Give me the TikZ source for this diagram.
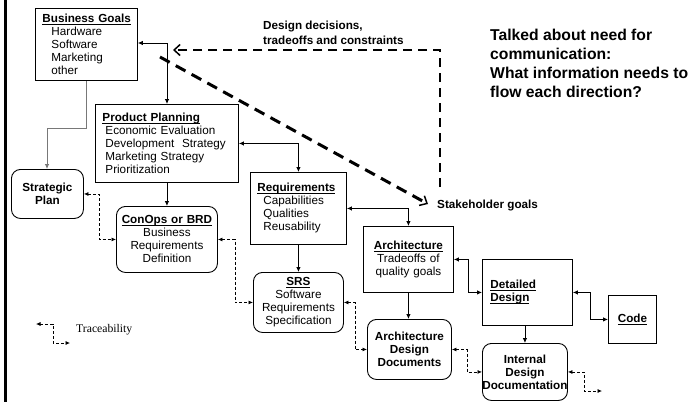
\documentclass[tikz,border=0pt]{standalone}
\usepackage{amsmath}
\usepackage{fontspec}
\setmainfont{Liberation Sans}
\newfontfamily\serifface{Liberation Serif}
\usetikzlibrary{arrows.meta}
% underlined bold heading, rule just under the baseline
\newcommand\hdr[1]{\underline{\smash[b]{\textbf{#1}}}}

\begin{document}
\begin{tikzpicture}[x=1pt,y=-1pt,
  every node/.style={font=\fontsize{11.7}{13}\selectfont, inner sep=0pt},
  sqbox/.style={draw, line width=0.9pt, anchor=north west, inner ysep=0pt},
  leftbox/.style={sqbox, align=left},
  midbox/.style={sqbox, align=center, inner xsep=2pt},
  rbox/.style={midbox, rounded corners=9pt},
  link/.style={line width=0.8pt, -{Latex[length=5pt,width=4.5pt]}},
  dlink/.style={line width=0.8pt, {Latex[length=5pt,width=4.5pt]}-{Latex[length=5pt,width=4.5pt]}},
  trace/.style={line width=0.7pt, dash pattern=on 3pt off 2pt,
    {Latex[length=4.5pt,width=4pt]}-{Latex[length=4.5pt,width=4pt]}},
  flow/.style={dash pattern=on 9pt off 6pt, line join=miter,
    -{Straight Barb[length=6pt,width=11pt,line width=1.5pt]}}
]
\useasboundingbox[fill=white] (0,0) rectangle (691,402);
% left rule
\fill (4,0) rectangle (7,402);

% ---- boxes ----
\node[leftbox, inner xsep=7pt, text width=88pt, minimum width=102pt, minimum height=72pt] (bg) at (35,8)
  {\hdr{Business Goals}\\
   \hspace*{9pt}Hardware\\ \hspace*{9pt}Software\\ \hspace*{9pt}Marketing\\ \hspace*{9pt}other};

\node[leftbox, inner xsep=7pt, text width=129pt, minimum width=143pt, minimum height=78pt] (pp) at (95,104)
  {\hdr{Product Planning}\\
   \hspace*{3pt}Economic Evaluation\\ \hspace*{3pt}Development\ \ Strategy\\
   \hspace*{3pt}Marketing Strategy\\ \hspace*{3pt}Prioritization};

\node[rbox, text width=68pt, minimum width=72pt, minimum height=49pt] (sp) at (11,169)
  {\textbf{Strategic}\\ \textbf{Plan}};

\node[rbox, text width=97pt, minimum width=101pt, minimum height=66pt] (conops) at (116,206)
  {\hdr{ConOps or BRD}\\ Business\\ Requirements\\ Definition};

\node[leftbox, inner xsep=7pt, text width=82pt, minimum width=96pt, minimum height=72pt] (req) at (250,172)
  {\hdr{Requirements}\\
   \hspace*{6pt}Capabilities\\ \hspace*{6pt}Qualities\\ \hspace*{6pt}Reusability};

\node[rbox, text width=86pt, minimum width=90pt, minimum height=60pt] (srs) at (253,272)
  {\hdr{SRS}\\ Software\\ Requirements\\ Specification};

\node[midbox, text width=86pt, minimum width=90pt, minimum height=66pt] (arch) at (363,226)
  {\hdr{Architecture}\\ Tradeoffs of\\ quality goals};

\node[rbox, text width=80pt, minimum width=84pt, minimum height=60pt] (add) at (367,319)
  {\textbf{Architecture}\\ \textbf{Design}\\ \textbf{Documents}};

\node[leftbox, inner xsep=8pt, text width=74pt, minimum width=90pt, minimum height=66pt] (dd) at (482,259)
  {\hdr{Detailed}\\ \hdr{Design}};

\node[midbox, text width=44pt, minimum width=48pt, minimum height=48pt] (code) at (608,295)
  {\hdr{Code}};

\node[rbox, text width=81pt, minimum width=85pt, minimum height=57pt] (idd) at (482,343)
  {\textbf{Internal}\\ \textbf{Design}\\ \makebox[81pt]{\textbf{Documentation}}};

% ---- free texts ----
\node[anchor=west, align=left, font=\fontsize{11.7}{15}\selectfont\bfseries] (ddc) at (263,32.5)
  {Design decisions,\\ tradeoffs and constraints};
\node[anchor=west, font=\fontsize{11.7}{13}\selectfont\bfseries] (sg) at (437,205) {Stakeholder goals};
\node[anchor=west, align=left, font=\fontsize{15.7}{19}\selectfont\bfseries] (note) at (490,63.5)
  {Talked about need for\\ communication:\\ What information needs to\\ flow each direction?};
\node[anchor=west, font=\fontsize{11.7}{13}\selectfont\serifface] (legend) at (76,330) {Traceability};

% ---- bend points and free ends ----
\coordinate (b1) at (167,43);
\coordinate (b2) at (86,128);
\coordinate (b3) at (47,128);
\coordinate (b8) at (468,0);
\coordinate (b9) at (590,0);
\coordinate (t1) at (99,0);
\coordinate (t2) at (235,0);
\coordinate (t3) at (355,0);
\coordinate (t4) at (467,0);
\coordinate (t5) at (584,0);
\coordinate (t5end) at (602,391);
\coordinate (lgstart) at (36,324);
\coordinate (lgbend) at (53,343);
\coordinate (lgend) at (70,343);
\coordinate (fbstart) at (440,187);
\coordinate (fbcorner) at (440,50);
\coordinate (fbend) at (173,50);
\coordinate (sgstart) at (160,57);
\coordinate (sgend) at (428,204);

% ---- solid connectors ----
\draw[dlink] (bg.east |- b1) -| (b1 |- pp.north);
\draw[link, draw={rgb,255:red,120;green,120;blue,120}] (b2 |- bg.south) -- (b2) -- (b3) -- (b3 |- sp.north);
\draw[link] (pp.south -| conops.north) -- (conops.north);
\draw[dlink] (pp.east) -| (req.north);
\draw[link] (req.south) -- (req.south |- srs.north);
\draw[dlink] (req.east) -| (arch.north);
\draw[link] (arch.south) -- (arch.south |- add.north);
\draw[dlink] (arch.east) -| (b8 |- dd.west) -- (dd.west);
\draw[dlink] (dd.east) -| (b9 |- code.west) -- (code.west);
\draw[link] (dd.south -| idd.north) -- (idd.north);

% ---- traceability links ----
\draw[trace] (sp.east) -| (t1 |- conops.west) -- (conops.west);
\draw[trace] (conops.east) -| (t2 |- srs.west) -- (srs.west);
\draw[trace] (srs.east) -| (t3 |- add.west) -- (add.west);
\draw[trace] (add.east) -| (t4 |- idd.west) -- (idd.west);
\draw[trace] (idd.east) -| (t5 |- t5end) -- (t5end);
\draw[trace] (lgstart) -| (lgbend) -- (lgend);

% ---- information flow ----
\draw[flow, line width=2pt] (fbstart) -- (fbcorner) -- (fbend);
\draw[flow, line width=3pt, dash pattern=on 11pt off 7pt] (sgstart) -- (sgend);
\end{tikzpicture}
\end{document}
